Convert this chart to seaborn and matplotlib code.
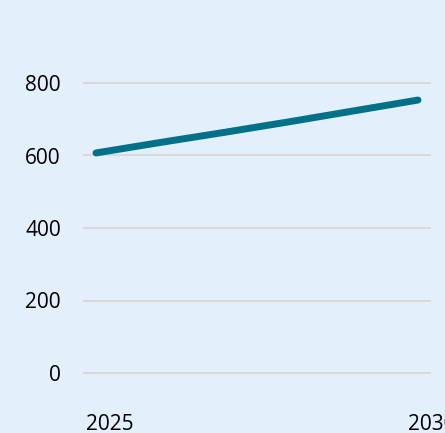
import pandas as pd
import matplotlib.pyplot as plt
import matplotlib.transforms as mtransforms
import seaborn as sns

# Data
years = [2025, 2026, 2027, 2028, 2029, 2030]
values = [607, 636, 664, 693, 723, 753]
y_ticks = [0, 200, 400, 600, 800]
x_labels = ["2025", "2030"]

bg = "#E3F0FB"
line_color = "#007189"

sns.set_theme(style="white")
plt.rcParams["font.family"] = ["Open Sans", "DejaVu Sans"]

df = pd.DataFrame({"year": years, "value": values})

fig = plt.figure(figsize=(4.45, 4.33), dpi=100, facecolor=bg)
ax = fig.add_axes([83 / 445, 1 - 380.25 / 433, 348 / 445, (380.25 - 75.75) / 433])
ax.set_facecolor(bg)

sns.lineplot(data=df, x="year", y="value", ax=ax, color=line_color,
             linewidth=5, solid_capstyle="round")

ax.set_xlim(2025 - 13 / 64.4, 2030 + 13 / 64.4)
ax.set_ylim(-20, 820)
ax.set_yticks(y_ticks)
ax.set_yticklabels([str(t) for t in y_ticks])
ax.set_xticks([2025, 2030])
ax.set_xticklabels(x_labels)

ax.grid(axis="y", color="#D9D9D9", linewidth=1.5)
ax.grid(axis="x", visible=False)
for s in ax.spines.values():
    s.set_visible(False)

ax.tick_params(axis="y", length=0, pad=16, labelsize=15, labelcolor="#000000")
ax.tick_params(axis="x", length=0, pad=24, labelsize=15, labelcolor="#000000")
offset = mtransforms.ScaledTranslation(14 / 100, 0, fig.dpi_scale_trans)
for lab in ax.get_xticklabels():
    lab.set_transform(lab.get_transform() + offset)

ax.set_xlabel("")
ax.set_ylabel("")

fig.savefig("out.png", dpi=100, facecolor=bg)
